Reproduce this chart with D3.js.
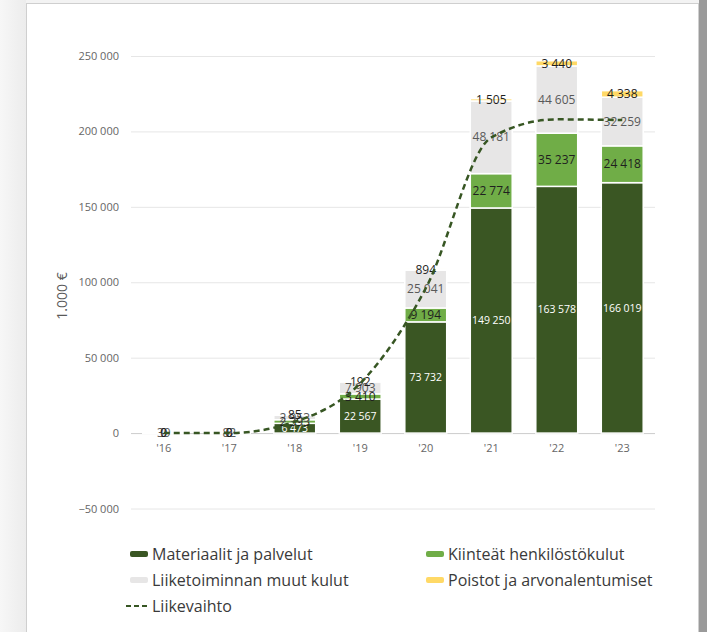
<!DOCTYPE html>
<html>
<head>
<meta charset="utf-8">
<script src="https://d3js.org/d3.v7.min.js"></script>
<style>
  html, body { margin: 0; padding: 0; }
  body { width: 707px; height: 632px; overflow: hidden; background: #f3f3f3; font-family: "Open Sans", sans-serif; }
  svg { position: absolute; left: 0; top: 0; }
</style>
</head>
<body>
<svg id="chart" width="707" height="632"></svg>
<script>
const years = ["'16", "'17", "'18", "'19", "'20", "'21", "'22", "'23"];
const materiaalit = [31, 60, 6473, 22567, 73732, 149250, 163578, 166019];
const henkilosto = [9, 8, 2393, 3410, 9194, 22774, 35237, 24418];
const muutKulut = [39, 82, 2953, 7903, 25041, 48181, 44605, 32259];
const poistot = [0, 0, 85, 192, 894, 1505, 3440, 4338];
const liikevaihto = [0, 50, 7500, 33000, 96000, 196000, 208000, 207500];
const yTicks = [-50000, 0, 50000, 100000, 150000, 200000, 250000];

const seriesNames = ["Materiaalit ja palvelut", "Kiinteät henkilöstökulut", "Liiketoiminnan muut kulut", "Poistot ja arvonalentumiset"];
const seriesData = [materiaalit, henkilosto, muutKulut, poistot];
const colors = ["#3a5623", "#70ad47", "#e7e6e6", "#ffd966"];
const labelColors = ["#ffffff", "#1f1f1f", "#595959", "#1f1f1f"];
const lineColor = "#375623";

const svg = d3.select("#chart");

// card background
const bg = svg.append("defs").append("linearGradient").attr("id", "lbg").attr("x1", 0).attr("x2", 1);
bg.append("stop").attr("offset", 0).attr("stop-color", "#f7f7f7");
bg.append("stop").attr("offset", 1).attr("stop-color", "#ececec");
svg.append("rect").attr("x", 0).attr("y", 0).attr("width", 26).attr("height", 632).attr("fill", "url(#lbg)");
svg.append("rect").attr("x", 699).attr("y", 0).attr("width", 8).attr("height", 632).attr("fill", "#9a9a9a");
svg.append("rect").attr("x", 26.5).attr("y", 3.5).attr("width", 672).attr("height", 640)
  .attr("fill", "#ffffff").attr("stroke", "#cfcfcf");

const x = d3.scaleBand().domain(years).range([131, 655]).paddingInner(0.36).paddingOuter(0.18);
const y = d3.scaleLinear().domain([-50000, 250000]).range([508.5, 56]);

// grid + y labels
const yAxis = svg.append("g").attr("transform", "translate(131,0)")
  .call(d3.axisLeft(y).tickValues(yTicks).tickSize(-524).tickPadding(12)
    .tickFormat(d => d3.format(",")(d).replace(/,/g, " ")));
yAxis.select(".domain").remove();
yAxis.selectAll(".tick line").attr("stroke", d => d === 0 ? "#cccccc" : "#e6e6e6");
yAxis.selectAll(".tick text").attr("fill", "#666").style("font-size", "11px").style("font-family", "Open Sans");

svg.append("text").attr("transform", "translate(67,296) rotate(-90)")
  .attr("text-anchor", "middle").attr("fill", "#595959")
  .style("font-size", "14px").text("1.000 €");

// x labels
const xAxis = svg.append("g").attr("transform", "translate(0,433)")
  .call(d3.axisBottom(x).tickSize(0).tickPadding(11));
xAxis.select(".domain").remove();
xAxis.selectAll(".tick text").attr("fill", "#666").style("font-size", "11px").style("font-family", "Open Sans");

// stack
const rows = years.map((yr, i) => {
  const r = { year: yr };
  seriesNames.forEach((s, k) => { r[s] = seriesData[k][i]; });
  return r;
});
const stacked = d3.stack().keys(seriesNames)(rows);

const layers = svg.append("g").selectAll("g").data(stacked).join("g")
  .attr("fill", (d, k) => colors[k]);
layers.selectAll("rect").data(d => d).join("rect")
  .attr("x", d => x(d.data.year))
  .attr("width", x.bandwidth())
  .attr("y", d => y(d[1]))
  .attr("height", d => Math.max(0, y(d[0]) - y(d[1])))
  .attr("stroke", "#ffffff").attr("stroke-width", 1.5);

// data labels
const fmt = v => d3.format(",")(v).replace(/,/g, " ");
stacked.forEach((layer, k) => {
  svg.append("g").selectAll("text").data(layer).join("text")
    .attr("x", d => x(d.data.year) + x.bandwidth() / 2)
    .attr("y", d => (y(d[0]) + y(d[1])) / 2)
    .attr("dy", "0.35em")
    .attr("text-anchor", "middle")
    .attr("fill", labelColors[k])
    .style("font-size", k === 0 ? "10.5px" : "12px")
    .text(d => fmt(d[1] - d[0]));
});

// line (drawn over the labels)
const line = d3.line()
  .x((d, i) => x(years[i]) + x.bandwidth() / 2)
  .y(d => y(d))
  .curve(d3.curveMonotoneX);
svg.append("path").datum(liikevaihto)
  .attr("d", line).attr("fill", "none")
  .attr("stroke", lineColor).attr("stroke-width", 2.5).attr("stroke-dasharray", "6,4");

// legend
const legendItems = [
  { name: seriesNames[0], color: colors[0], x: 130, y: 554 },
  { name: seriesNames[1], color: colors[1], x: 426, y: 554 },
  { name: seriesNames[2], color: colors[2], x: 130, y: 580 },
  { name: seriesNames[3], color: colors[3], x: 426, y: 580 }
];
const lg = svg.append("g");
legendItems.forEach(it => {
  lg.append("rect").attr("x", it.x).attr("y", it.y - 3).attr("width", 18).attr("height", 6)
    .attr("rx", 2).attr("fill", it.color);
  lg.append("text").attr("x", it.x + 22).attr("y", it.y).attr("dy", "0.35em")
    .attr("fill", "#3a3a3a").style("font-size", "16px").text(it.name);
});
lg.append("line").attr("x1", 126).attr("x2", 150).attr("y1", 606).attr("y2", 606)
  .attr("stroke", lineColor).attr("stroke-width", 2).attr("stroke-dasharray", "5,3");
lg.append("text").attr("x", 152).attr("y", 606).attr("dy", "0.35em")
  .attr("fill", "#3a3a3a").style("font-size", "16px").text("Liikevaihto");
</script>
</body>
</html>
